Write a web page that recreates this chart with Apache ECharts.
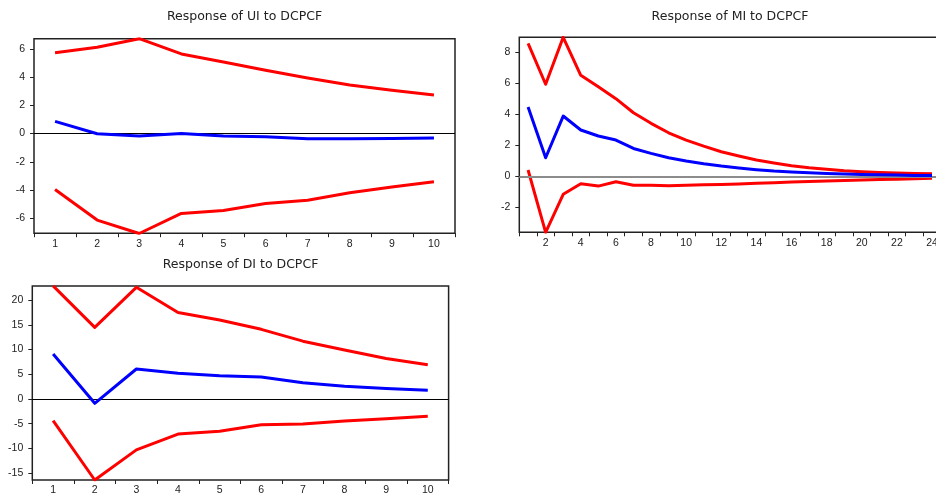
<!DOCTYPE html>
<html>
<head>
<meta charset="utf-8">
<script src="https://cdn.jsdelivr.net/npm/echarts@6/dist/echarts.min.js"></script>
<style>
html,body{margin:0;padding:0;background:#fff;}
#chart{width:936px;height:494px;}
</style>
</head>
<body>
<div id="chart"></div>
<script>
// ---------- data ----------
const periods10 = ['1','2','3','4','5','6','7','8','9','10'];
const periods24 = ['1','2','3','4','5','6','7','8','9','10','11','12','13','14','15','16','17','18','19','20','21','22','23','24'];

const uiUpper = [5.73, 6.11, 6.72, 5.64, 5.07, 4.48, 3.94, 3.44, 3.06, 2.73];
const uiResp  = [0.86, -0.01, -0.18, 0.0, -0.18, -0.22, -0.37, -0.37, -0.35, -0.32];
const uiLower = [-3.96, -6.13, -7.08, -5.66, -5.45, -4.95, -4.72, -4.20, -3.79, -3.42];
const uiTicks = [-6, -4, -2, 0, 2, 4, 6];
const uiRange = [-7.06, 6.72];

const miUpper = [8.58, 5.94, 8.97, 6.52, 5.78, 5.01, 4.10, 3.42, 2.81, 2.34, 1.95, 1.59, 1.31, 1.05, 0.86, 0.68, 0.55, 0.45, 0.36, 0.30, 0.25, 0.21, 0.19, 0.17];
const miResp  = [4.47, 1.20, 3.89, 2.99, 2.60, 2.34, 1.80, 1.48, 1.20, 0.99, 0.81, 0.66, 0.54, 0.43, 0.34, 0.28, 0.23, 0.19, 0.15, 0.12, 0.10, 0.08, 0.06, 0.05];
const miLower = [0.41, -3.61, -1.16, -0.48, -0.63, -0.35, -0.58, -0.57, -0.60, -0.58, -0.55, -0.52, -0.49, -0.45, -0.42, -0.37, -0.33, -0.30, -0.27, -0.24, -0.20, -0.18, -0.15, -0.13];
const miTicks = [-2, 0, 2, 4, 6, 8];
const miRange = [-3.61, 8.97];

const diUpper = [22.9, 14.5, 22.6, 17.5, 16.0, 14.1, 11.7, 9.9, 8.2, 6.95];
const diResp  = [9.1, -0.88, 6.07, 5.2, 4.7, 4.45, 3.3, 2.6, 2.1, 1.75];
const diLower = [-4.4, -16.4, -10.3, -7.1, -6.55, -5.2, -5.06, -4.45, -3.98, -3.5];
const diTicks = [-15, -10, -5, 0, 5, 10, 15, 20];
const diRange = [-16.4, 22.87];

const titles = ['Response of UI to DCPCF', 'Response of MI to DCPCF', 'Response of DI to DCPCF'];

// ---------- layout ----------
const grids = [
  {left: 34, top: 38.7, width: 421, height: 194.5},
  {left: 519.3, top: 37.3, width: 421.5, height: 195},
  {left: 32.3, top: 286, width: 416.3, height: 194}
];
const titlePos = [[244.5, 17], [730, 16.5], [240.5, 264.5]];

const font = '"Liberation Sans", Arial, sans-serif';
const RED = '#ff0000', BLUE = '#0000ff';

const chart = echarts.init(document.getElementById('chart'), null, {renderer: 'canvas'});

const xAxes = [], yAxes = [], series = [];
const cats = [periods10, periods24, periods10];
const ranges = [uiRange, miRange, diRange];
const ticks = [uiTicks, miTicks, diTicks];
const sets = [[uiUpper, uiLower, uiResp], [miUpper, miLower, miResp], [diUpper, diLower, diResp]];

for (let i = 0; i < 3; i++) {
  xAxes.push({
    gridIndex: i, type: 'category', data: cats[i], boundaryGap: true, position: 'bottom',
    axisLine: {show: false, onZero: false},
    axisTick: {show: true, inside: false, length: 4, interval: 0, lineStyle: {color: '#222', width: 1}},
    axisLabel: {
      color: '#222', fontFamily: font, fontSize: 10.5, margin: 5,
      interval: i === 1 ? function (idx) { return idx % 2 === 1; } : 0
    },
    splitLine: {show: false}
  });
  yAxes.push({
    gridIndex: i, type: 'value', min: ranges[i][0], max: ranges[i][1],
    axisLine: {show: false, onZero: false},
    axisTick: {show: true, inside: false, length: 4, customValues: ticks[i], lineStyle: {color: '#222', width: 1}},
    axisLabel: {color: '#222', fontFamily: font, fontSize: 10.5, margin: 9, customValues: ticks[i]},
    splitLine: {show: false}
  });
  // zero line
  series.push({
    type: 'line', xAxisIndex: i, yAxisIndex: i, data: [], silent: true, z: 1,
    markLine: {
      silent: true, symbol: 'none', label: {show: false}, animation: false,
      lineStyle: i === 1 ? {color: '#8c8c8c', width: 2, type: 'solid'} : {color: '#000', width: 1, type: 'solid'},
      data: [{yAxis: 0}]
    }
  });
  const colors = [RED, RED, BLUE];
  sets[i].forEach((d, k) => {
    series.push({
      type: 'line', xAxisIndex: i, yAxisIndex: i, data: d,
      showSymbol: false, symbol: 'none', animation: false, z: 3 + k,
      lineStyle: {color: colors[k], width: 3, join: 'round'},
      itemStyle: {color: colors[k]}
    });
  });
}

const graphic = titles.map((t, i) => ({
  type: 'text', x: titlePos[i][0], y: titlePos[i][1], silent: true,
  style: {text: t, fill: '#222', font: '12.5px "DejaVu Sans", sans-serif', textAlign: 'center', textVerticalAlign: 'middle'}
}));

chart.setOption({
  animation: false,
  backgroundColor: '#fff',
  grid: grids.map(g => Object.assign({show: true, borderColor: '#222', borderWidth: 1.5, backgroundColor: 'transparent', containLabel: false, outerBoundsMode: 'none'}, g)),
  xAxis: xAxes,
  yAxis: yAxes,
  series: series,
  graphic: graphic
});
</script>
</body>
</html>
